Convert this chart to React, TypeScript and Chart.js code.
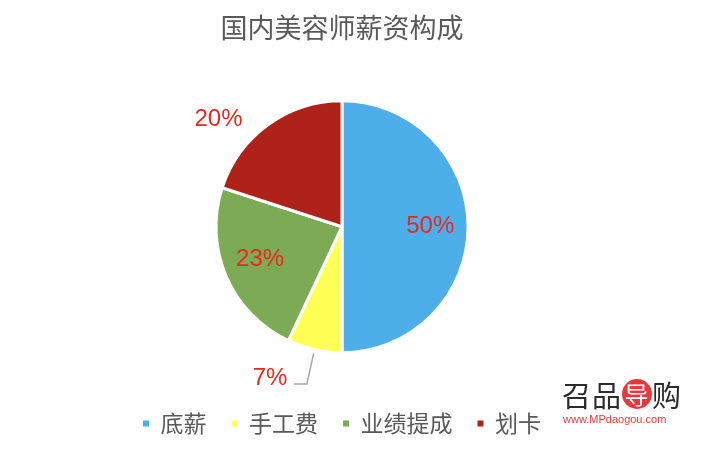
import React, { useEffect, useRef } from "react";
import { Chart, registerables } from "chart.js";

Chart.register(...registerables);

const chartTitle = "国内美容师薪资构成";
const categories = ["底薪", "手工费", "业绩提成", "划卡"];
const values = [50, 7, 23, 20];
const colors = ["#4DAEEA", "#FFFF55", "#7DAB55", "#AE2219"];
// label placement (fraction across slice angle, radius factor)
const labelAngleFrac = [0.5, 1.01, 0.52, 0.32];
const labelRadius = [0.7, 1.33, 0.7, 1.3];
const leaderIndex = 1;

const CJK = '"Noto Sans CJK SC", "Noto Sans", sans-serif';

const labelPlugin = {
  id: "sliceLabels",
  afterDatasetsDraw(chart: any) {
    const ctx = chart.ctx;
    const meta = chart.getDatasetMeta(0);
    meta.data.forEach((arc: any, i: number) => {
      const p = arc.getProps(["x", "y", "startAngle", "endAngle", "outerRadius"], true);
      const a = p.startAngle + (p.endAngle - p.startAngle) * labelAngleFrac[i];
      const r = p.outerRadius * labelRadius[i];
      const lx = p.x + Math.cos(a) * r;
      const ly = p.y + Math.sin(a) * r;
      if (i === leaderIndex) {
        const ma = (p.startAngle + p.endAngle) / 2;
        const r1 = p.outerRadius * 1.03;
        const r2 = p.outerRadius * 1.28;
        const x1 = p.x + Math.cos(ma) * r1;
        const y1 = p.y + Math.sin(ma) * r1;
        const x2 = p.x + Math.cos(ma) * r2;
        const y2 = p.y + Math.sin(ma) * r2;
        ctx.save();
        ctx.strokeStyle = "#A6A6A6";
        ctx.lineWidth = 1.5;
        ctx.beginPath();
        ctx.moveTo(x1, y1);
        ctx.lineTo(x2, y2);
        ctx.lineTo(x2 - 13, y2);
        ctx.stroke();
        ctx.restore();
      }
      ctx.save();
      ctx.font = '24px "Liberation Sans", Arial, sans-serif';
      ctx.fillStyle = "#E8281E";
      ctx.textAlign = "center";
      ctx.textBaseline = "middle";
      ctx.fillText(values[i] + "%", lx, ly);
      ctx.restore();
    });
  },
};

export default function App() {
  const ref = useRef<HTMLCanvasElement | null>(null);
  useEffect(() => {
    document.body.style.margin = "0";
    if (!ref.current) return;
    const chart = new Chart(ref.current, {
      type: "pie",
      data: {
        labels: categories,
        datasets: [
          {
            data: values,
            backgroundColor: colors,
            borderColor: "#FFFFFF",
            borderWidth: 3,
            radius: 126,
          } as any,
        ],
      },
      options: {
        animation: false,
        responsive: false,
        layout: { padding: { top: 0, right: 26, bottom: 5, left: 0 } },
        plugins: {
          title: {
            display: true,
            text: chartTitle,
            color: "#595959",
            font: { family: CJK, size: 27, weight: "normal" },
            padding: { top: 12, bottom: 22 },
          },
          legend: {
            position: "bottom",
            labels: {
              boxWidth: 6,
              boxHeight: 6,
              padding: 25,
              color: "#595959",
              font: { family: CJK, size: 23 },
              generateLabels: () =>
                categories.map((c, i) => ({
                  text: c,
                  fillStyle: colors[i],
                  strokeStyle: colors[i],
                  lineWidth: 0,
                  hidden: false,
                  index: i,
                  fontColor: "#595959",
                })),
            },
          },
          tooltip: { enabled: false },
        },
      } as any,
      plugins: [labelPlugin],
    });
    return () => chart.destroy();
  }, []);

  return (
    <div style={{ position: "relative", width: 710, height: 450, background: "#fff" }}>
      <canvas ref={ref} width={710} height={450} style={{ display: "block" }} />
      <div
        style={{
          position: "absolute",
          left: 562,
          top: 378,
          width: 128,
          fontFamily: CJK,
          fontSize: 29,
          lineHeight: "32px",
          color: "#2b2b2b",
          letterSpacing: 1,
          whiteSpace: "nowrap",
        }}
      >
        召品
        <span
          style={{
            display: "inline-block",
            width: 30,
            height: 30,
            lineHeight: "30px",
            borderRadius: 15,
            background: "#E8383D",
            color: "#fff",
            textAlign: "center",
            fontSize: 24,
            verticalAlign: "top",
            marginTop: 1,
          }}
        >
          导
        </span>
        购
      </div>
      <div
        style={{
          position: "absolute",
          left: 563,
          top: 413,
          fontFamily: '"Liberation Sans", Arial, sans-serif',
          fontSize: 11,
          color: "#E8383D",
          whiteSpace: "nowrap",
        }}
      >
        www.MPdaogou.com
      </div>
    </div>
  );
}
